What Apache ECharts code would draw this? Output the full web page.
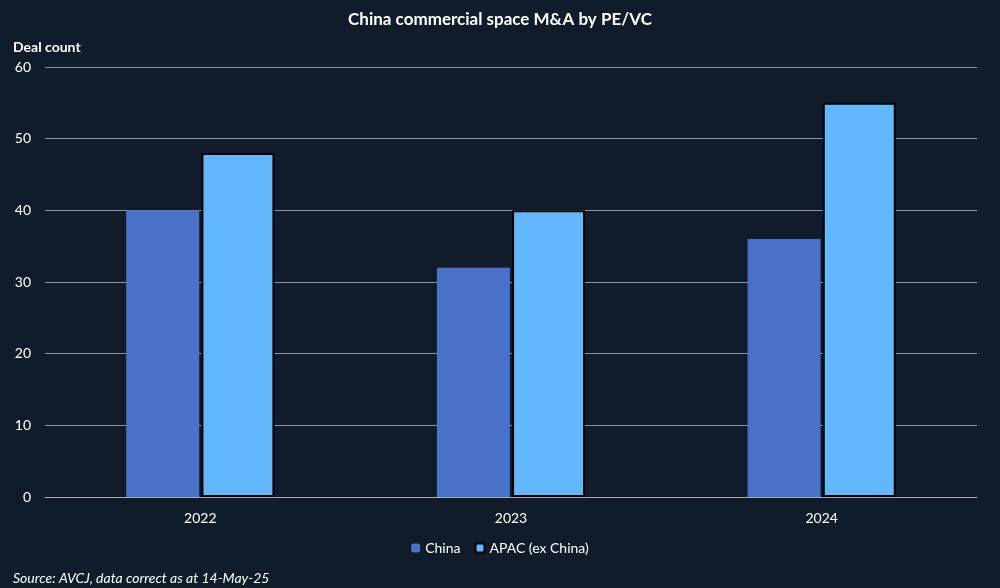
<!DOCTYPE html><html><head><meta charset="utf-8">
<script src="https://cdn.jsdelivr.net/npm/echarts@6/dist/echarts.min.js"></script>
<style>html,body{margin:0;background:#111c2a}#c{width:1000px;height:588px}</style></head><body><div id="c"></div>
<script>
const categories=['2022','2023','2024'];
const china=[40,32,36];
const apac=[48,40,55];
const yTicks=[0,10,20,30,40,50,60];
const ch=echarts.init(document.getElementById('c'));
const F='Lato, "Noto Sans", sans-serif';
ch.setOption({
backgroundColor:'#111c2a',
textStyle:{fontFamily:F},
title:[{text:'China commercial space M&A by PE/VC',left:'center',top:6,textStyle:{color:'#fff',fontSize:17,fontWeight:'bold',fontFamily:F}},
{text:'Deal count',left:8,top:35,textStyle:{color:'#fff',fontSize:14,fontWeight:'bold',fontFamily:F}},
{text:'Source: AVCJ, data correct as at 14-May-25',left:8,top:566,textStyle:{color:'#fff',fontSize:14,fontStyle:'italic',fontWeight:'normal',fontFamily:F}}],
legend:{bottom:28,left:'center',itemWidth:9,itemHeight:9,itemGap:14,textStyle:{color:'#fff',fontSize:14},data:['China','APAC (ex China)']},
grid:{left:45,right:23,top:67,bottom:91,containLabel:false},
xAxis:{type:'category',data:categories,axisLine:{lineStyle:{color:'#aab'}},axisTick:{show:false},axisLabel:{color:'#fff',fontSize:14,margin:14}},
yAxis:{type:'value',min:yTicks[0],max:yTicks[yTicks.length-1],interval:10,axisLabel:{color:'#fff',fontSize:14,margin:14},splitLine:{lineStyle:{color:'#8a93a0'}},axisLine:{show:false}},
series:[{name:'China',type:'bar',data:china,barWidth:'23.5%',barGap:'3%',itemStyle:{color:'#4a72c8'}},
{name:'APAC (ex China)',type:'bar',data:apac,barWidth:'23.5%',itemStyle:{color:'#63b8fd',borderColor:'#000',borderWidth:2}}]
});
</script></body></html>
